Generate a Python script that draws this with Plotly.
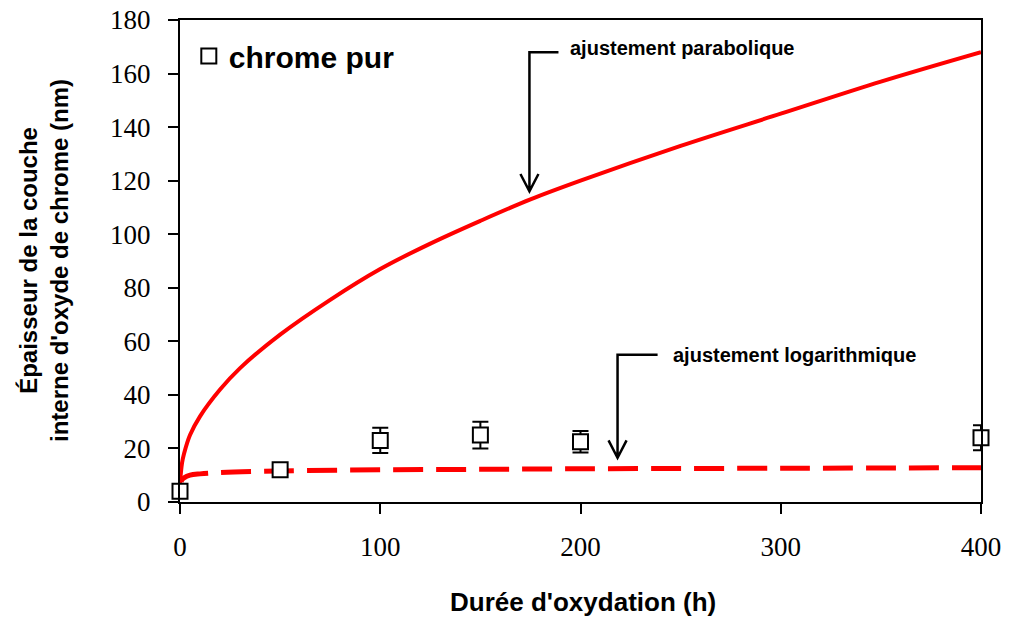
import plotly.graph_objects as go

# Measured data (chrome pur)
t_meas = [0, 50, 100, 150, 200, 400]
e_meas = [4, 12, 23, 25, 22.5, 24]
e_err = [0, 0, 4.7, 5, 4, 4.7]

# Parabolic fit curve
t_para = [0, 1, 2, 5, 10, 20, 30, 50, 75, 100, 125, 150, 175, 200, 250, 300, 350, 400]
e_para = [7, 14.5, 18, 25, 32, 42, 50, 62.5, 75.5, 87, 96.5, 105, 113, 120, 133, 145, 157, 168]

# Logarithmic fit curve
t_log = [0.5, 1, 2, 5, 10, 20, 50, 100, 150, 200, 300, 400]
e_log = [7.5, 8.3, 9, 10, 10.5, 11, 11.6, 12, 12.2, 12.4, 12.6, 12.8]

x_ticks = [0, 100, 200, 300, 400]
y_ticks = [0, 20, 40, 60, 80, 100, 120, 140, 160, 180]

SANS = "Liberation Sans, Arial"
SERIF = "Liberation Serif, Times New Roman"

fig = go.Figure()
fig.add_trace(go.Scatter(x=t_para, y=e_para, mode="lines", line=dict(color="#ff0000", width=4),
                         showlegend=False, line_shape="spline"))
fig.add_trace(go.Scatter(x=t_log, y=e_log, mode="lines",
                         line=dict(color="#ff0000", width=5, dash="30px,13px"),
                         showlegend=False, line_shape="spline"))
fig.add_trace(go.Scatter(x=t_meas, y=e_meas, mode="markers", name="chrome pur",
                         marker=dict(symbol="square", size=15, color="white",
                                     line=dict(color="black", width=2)),
                         error_y=dict(type="data", array=e_err, visible=True,
                                      color="black", thickness=2, width=8),
                         cliponaxis=False))

# Arrow shapes (annotation pointers)
def arrow(xv, x_end, y_top, y_tip, dx=4.5, dy=6.5):
    path = (f"M {x_end},{y_top} L {xv},{y_top} L {xv},{y_tip} "
            f"M {xv-dx},{y_tip+dy} L {xv},{y_tip} L {xv+dx},{y_tip+dy}")
    fig.add_shape(type="path", path=path, xref="x", yref="y",
                  line=dict(color="black", width=2.5))

arrow(174.5, 189, 168, 116)
arrow(218.5, 238.5, 55, 16.5)

fig.add_annotation(x=194, y=169.5, xref="x", yref="y", text="ajustement parabolique",
                   showarrow=False, xanchor="left", yanchor="middle",
                   font=dict(family=SANS, size=20, color="black", weight="bold"))
fig.add_annotation(x=245, y=55, xref="x", yref="y", text="ajustement logarithmique",
                   showarrow=False, xanchor="left", yanchor="middle",
                   font=dict(family=SANS, size=20, color="black", weight="bold"))

fig.add_annotation(x=(44 - 180) / 801, y=0.5, xref="paper", yref="paper",
                   text="Épaisseur de la couche<br>interne d'oxyde de chrome (nm)",
                   textangle=-90, showarrow=False, xanchor="center", yanchor="middle",
                   font=dict(family=SANS, size=24, color="black", weight="bold"))
fig.add_annotation(x=0.503, y=(502 - 602) / 482, xref="paper", yref="paper",
                   text="Durée d'oxydation (h)", showarrow=False,
                   xanchor="center", yanchor="middle",
                   font=dict(family=SANS, size=26, color="black", weight="bold"))

fig.update_layout(
    width=1009, height=619,
    margin=dict(l=180, r=28, t=20, b=117, autoexpand=False),
    paper_bgcolor="white", plot_bgcolor="white",
    legend=dict(x=0.011, y=0.979, xanchor="left", yanchor="top",
                font=dict(family=SANS, size=30, color="black", weight="bold"),
                bgcolor="rgba(0,0,0,0)"),
    xaxis=dict(range=[0, 400], tickvals=x_ticks, showgrid=False, zeroline=False,
               showline=True, linecolor="black", linewidth=2, mirror=True,
               ticks="outside", ticklen=10, tickwidth=2, tickcolor="black",
               ticklabelstandoff=10, automargin=False, ticklabeloverflow="allow",
               tickfont=dict(family=SERIF, size=27, color="black")),
    yaxis=dict(range=[0, 180], tickvals=y_ticks, showgrid=False, zeroline=False,
               showline=True, linecolor="black", linewidth=2, mirror=True,
               ticks="outside", ticklen=10, tickwidth=2, tickcolor="black",
               ticklabelstandoff=12, automargin=False, ticklabeloverflow="allow",
               tickfont=dict(family=SERIF, size=27, color="black")),
)

fig.write_html("out.html", config={"displayModeBar": False},
               post_script="document.body.style.margin='0';")
